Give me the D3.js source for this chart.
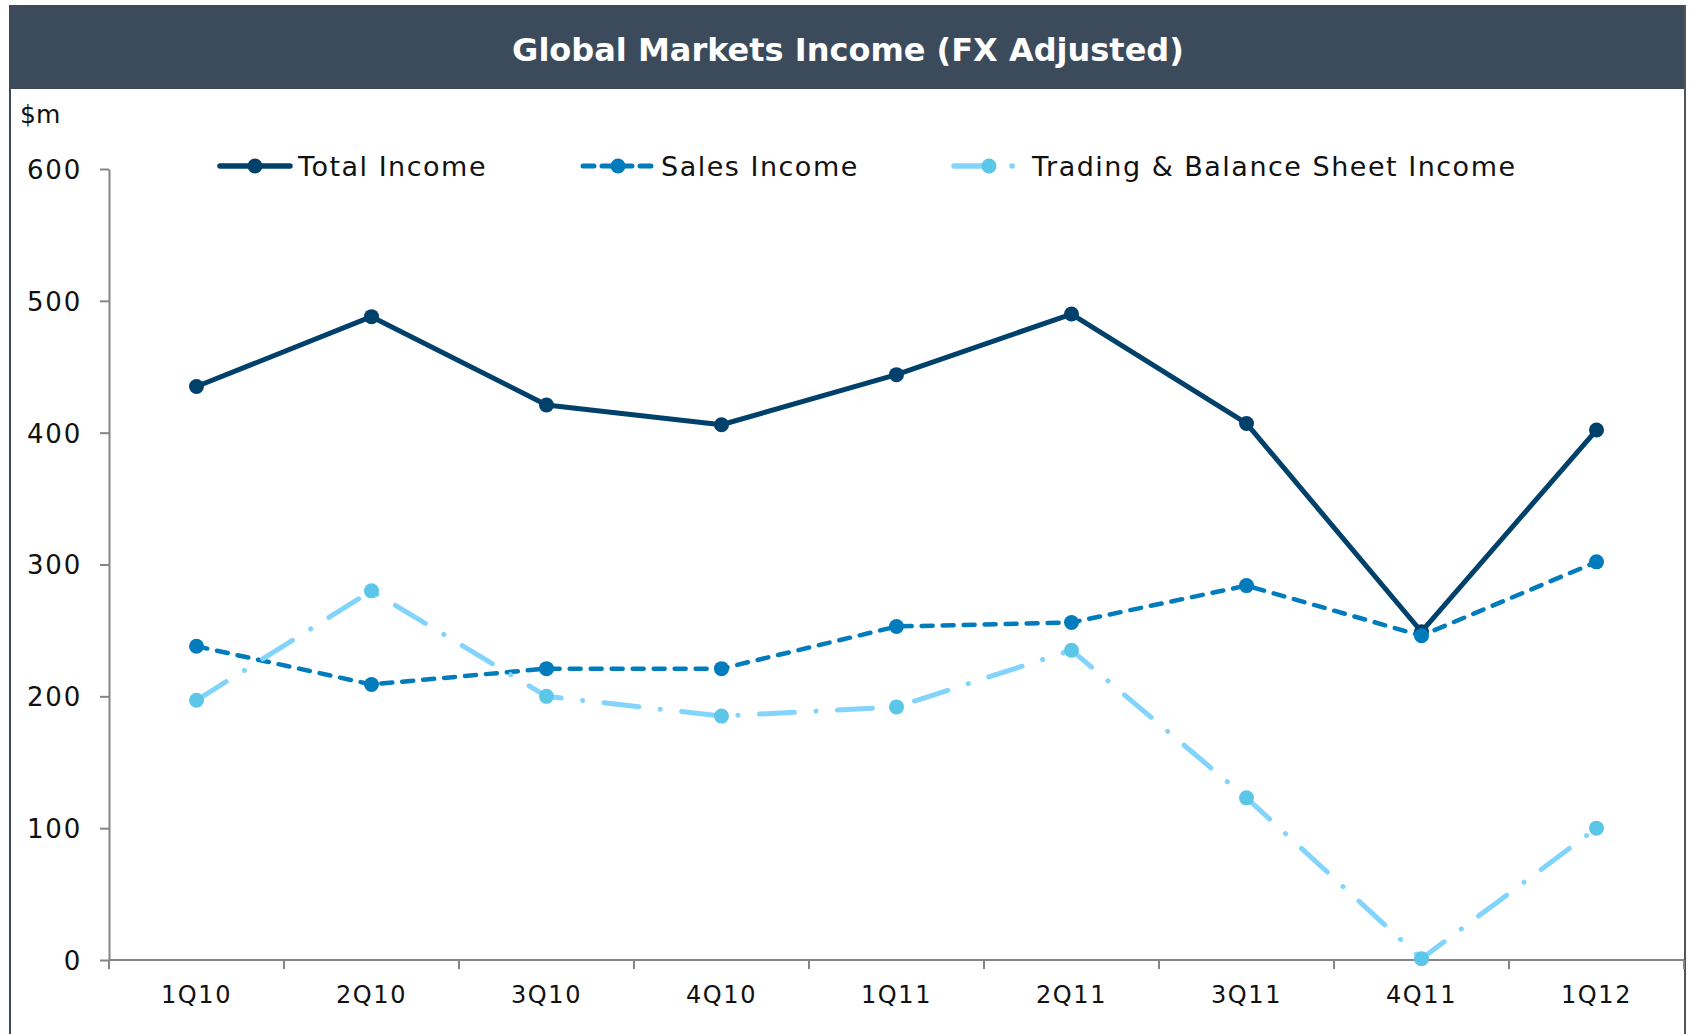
<!DOCTYPE html>
<html>
<head>
<meta charset="utf-8">
<script src="https://cdn.jsdelivr.net/npm/d3@7"></script>
<style>
  body { margin: 0; background: #ffffff; }
  svg text { font-family: "DejaVu Sans", Verdana, sans-serif; }
</style>
</head>
<body>
<div id="chart"></div>
<script>
const WIDTH = 1692;
const HEIGHT = 1034;
const FRAME = "#3b4b5b";
const AXIS_GREY = "#858585";

// data ($m)
const quarters = ["1Q10", "2Q10", "3Q10", "4Q10", "1Q11", "2Q11", "3Q11", "4Q11", "1Q12"];
const totalIncome = [435, 488, 421, 406, 444, 490, 407, 249, 402];
const salesIncome = [238, 209, 221, 221, 253, 256, 284, 246, 302];
const tradingIncome = [197, 280, 200, 185, 192, 235, 123, 1, 100];
const yTicks = [0, 100, 200, 300, 400, 500, 600];

const series = [
    { name: "Total Income", values: totalIncome, line: "#00416b", dot: "#00416b", width: 5, dash: null, legendDash: null, legendX: 220, legendLen: 70 },
    { name: "Sales Income", values: salesIncome, line: "#007cbd", dot: "#007cbd", width: 4.5, dash: "11,10", legendDash: "11,8", legendX: 583, legendLen: 70 },
    { name: "Trading & Balance Sheet Income", values: tradingIncome, line: "#82d4fd", dot: "#5bc6e8", width: 5, dash: "35,21.5,0.1,21.5", legendDash: "38,20,0.1,20", legendX: 954, legendLen: 60 }
];

var svg = d3.select("#chart")
    .append("svg")
    .attr("width", WIDTH)
    .attr("height", HEIGHT);

// frame and title bar
svg.append("rect")
    .attr("x", 9).attr("y", 5)
    .attr("width", 1677).attr("height", 84)
    .attr("fill", FRAME);
svg.append("line")
    .attr("x1", 10).attr("x2", 10).attr("y1", 5).attr("y2", HEIGHT)
    .attr("stroke", FRAME).attr("stroke-width", 2);
svg.append("line")
    .attr("x1", 1685).attr("x2", 1685).attr("y1", 5).attr("y2", HEIGHT)
    .attr("stroke", "#50555a").attr("stroke-width", 2);
svg.append("text")
    .attr("x", 848).attr("y", 61)
    .attr("text-anchor", "middle")
    .style("font-size", "32px")
    .style("font-weight", "bold")
    .style("fill", "#ffffff")
    .text("Global Markets Income (FX Adjusted)");

svg.append("text")
    .attr("x", 20).attr("y", 123)
    .style("font-size", "25px")
    .style("fill", "#111")
    .text("$m");

// scales
var x = d3.scaleBand().domain(quarters).range([109, 1684]);
var y = d3.scaleLinear().domain([0, 600]).range([960, 169]);

// y axis
var yAxis = svg.append("g")
    .attr("transform", "translate(109,0)")
    .call(d3.axisLeft(y).tickValues(yTicks).tickSize(9).tickSizeOuter(0).tickFormat(d3.format("d")));
yAxis.select(".domain").attr("stroke", AXIS_GREY).attr("stroke-width", 2);
yAxis.selectAll(".tick line").attr("stroke", AXIS_GREY).attr("stroke-width", 2);
yAxis.selectAll(".tick text")
    .attr("x", -27)
    .attr("dy", "0.36em")
    .style("font-size", "26px")
    .style("letter-spacing", "1.8px")
    .style("font-family", "DejaVu Sans, sans-serif")
    .style("fill", "#111");

// x axis, ticks sit between the categories
var xAxis = svg.append("g")
    .attr("transform", "translate(0,960)");
xAxis.append("line")
    .attr("x1", 109).attr("x2", 1684)
    .attr("stroke", AXIS_GREY).attr("stroke-width", 2);
xAxis.selectAll("line.sep")
    .data(quarters.concat(["end"]))
    .enter()
    .append("line")
    .attr("class", "sep")
    .attr("x1", (d, i) => 109 + i * x.step())
    .attr("x2", (d, i) => 109 + i * x.step())
    .attr("y1", 0).attr("y2", 9)
    .attr("stroke", AXIS_GREY).attr("stroke-width", 2);
xAxis.selectAll("text")
    .data(quarters)
    .enter()
    .append("text")
    .attr("x", d => x(d) + x.bandwidth() / 2)
    .attr("y", 43)
    .attr("text-anchor", "middle")
    .style("font-size", "24px")
    .style("letter-spacing", "1.6px")
    .style("fill", "#111")
    .text(d => d);

// lines and markers
var line = d3.line()
    .x((d, i) => x(quarters[i]) + x.bandwidth() / 2)
    .y(d => y(d));

series.forEach(s => {
    svg.append("path")
        .datum(s.values)
        .attr("d", line)
        .attr("fill", "none")
        .attr("stroke", s.line)
        .attr("stroke-width", s.width)
        .attr("stroke-linecap", "round")
        .attr("stroke-linejoin", "round")
        .attr("stroke-dasharray", s.dash);
    svg.selectAll(null)
        .data(s.values)
        .enter()
        .append("circle")
        .attr("cx", (d, i) => x(quarters[i]) + x.bandwidth() / 2)
        .attr("cy", d => y(d))
        .attr("r", 7.5)
        .attr("fill", s.dot);
});

// legend
var legend = svg.append("g").attr("transform", "translate(0,166)");
series.forEach(s => {
    legend.append("line")
        .attr("x1", s.legendX).attr("x2", s.legendX + s.legendLen)
        .attr("stroke", s.line)
        .attr("stroke-width", s.width + 0.5)
        .attr("stroke-linecap", "round")
        .attr("stroke-dasharray", s.legendDash);
    legend.append("circle")
        .attr("cx", s.legendX + 35)
        .attr("r", 7.5)
        .attr("fill", s.dot);
    legend.append("text")
        .attr("x", s.legendX + 78)
        .attr("dy", "0.36em")
        .style("font-size", "27px")
        .style("letter-spacing", "1.5px")
        .style("fill", "#111")
        .text(s.name);
});
</script>
</body>
</html>
